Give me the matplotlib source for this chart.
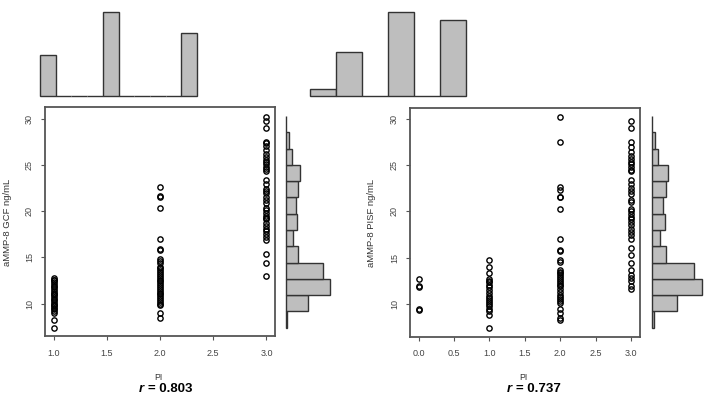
import numpy as np
import matplotlib
matplotlib.use("Agg")
import matplotlib.pyplot as plt

plt.rcParams['font.family'] = ['Liberation Sans', 'DejaVu Sans']

# aMMP-8 GCF values per PI group (left panel)
gcf_pi1 = [12.8, 12.6, 12.5, 12.3, 12.1, 11.9, 11.8, 11.6, 11.4, 11.2, 11.0, 10.9, 10.7,
           10.5, 10.4, 10.2, 10.0, 9.9, 9.7, 9.5, 9.4, 9.2, 9.0, 8.2, 7.4]
gcf_pi2 = [22.6, 21.6, 21.5, 20.3, 17.0, 15.9, 15.8, 14.8, 14.6, 14.4, 14.0, 13.8, 13.6,
           13.4, 13.2, 13.0, 12.8, 12.6, 12.4, 12.2, 12.0, 11.8, 11.6, 11.4, 11.2, 11.0,
           10.8, 10.6, 10.4, 10.2, 10.0, 9.9, 9.0, 8.4]
gcf_pi3 = [30.2, 29.7, 29.0, 27.5, 27.4, 27.0, 26.6, 26.2, 25.9, 25.5, 25.3, 25.1, 24.8,
           24.5, 24.3, 23.4, 22.9, 22.4, 22.2, 22.0, 21.5, 21.2, 20.9, 20.3, 20.1, 19.8,
           19.5, 19.3, 19.1, 18.7, 18.4, 18.1, 17.8, 17.5, 17.2, 16.9, 15.4, 14.4, 13.0]

# aMMP-8 PISF values per PI group (right panel)
pisf_pi0 = [12.7, 11.9, 11.8, 9.5, 9.4]
pisf_pi1 = [14.8, 14.0, 13.3, 12.7, 12.5, 12.4, 12.1, 11.8, 11.5, 11.2, 10.9, 10.6, 10.4,
            10.2, 10.0, 9.8, 9.5, 9.3, 8.8, 7.4]
pisf_pi2 = [30.2, 27.5, 22.6, 22.3, 21.6, 21.5, 20.3, 17.0, 15.8, 15.7, 14.7, 14.5, 13.7,
            13.5, 13.3, 13.1, 12.9, 12.7, 12.5, 12.3, 12.1, 11.9, 11.6, 11.3, 11.0, 10.8,
            10.5, 10.3, 10.1, 9.5, 9.0, 8.5, 8.3]
pisf_pi3 = [29.7, 29.0, 27.5, 26.9, 26.4, 26.0, 25.6, 25.3, 25.1, 24.8, 24.5, 24.3, 23.4,
            22.9, 22.5, 22.2, 21.9, 21.2, 21.0, 20.3, 20.0, 19.7, 19.4, 19.2, 18.8, 18.5,
            18.1, 17.8, 17.5, 17.0, 16.0, 15.3, 14.4, 13.7, 13.1, 12.8, 12.5, 12.0, 11.6]

gcf_groups = {1: gcf_pi1, 2: gcf_pi2, 3: gcf_pi3}
pisf_groups = {0: pisf_pi0, 1: pisf_pi1, 2: pisf_pi2, 3: pisf_pi3}

# marginal histograms
gcf_pi_breaks = [1.0, 1.2, 1.4, 1.6, 1.8, 2.0, 2.2, 2.4, 2.6, 2.8, 3.0]
gcf_pi_counts = [28, 0, 0, 0, 57, 0, 0, 0, 0, 43]
pisf_pi_breaks = [0.0, 0.5, 1.0, 1.5, 2.0, 2.5, 3.0]
pisf_pi_counts = [4, 27, 0, 51, 0, 46]
ammp_breaks = [6, 8, 10, 12, 14, 16, 18, 20, 22, 24, 26, 28, 30, 32]
ammp_counts = [1, 16, 32, 27, 9, 5, 8, 7, 9, 10, 4, 2, 0]

gcf_xticks = [1.0, 1.5, 2.0, 2.5, 3.0]
pisf_xticks = [0.0, 0.5, 1.0, 1.5, 2.0, 2.5, 3.0]
yticks = [10, 15, 20, 25, 30]

W, H = 706, 399
fig = plt.figure(figsize=(W / 100, H / 100), dpi=100)


def px_axes(x0, y0, x1, y1):
    return fig.add_axes([x0 / W, 1 - y1 / H, (x1 - x0) / W, (y1 - y0) / H])


def scatter_panel(box, groups, xlim, xticks):
    ax = px_axes(*box)
    for pi, vals in groups.items():
        ax.plot([pi] * len(vals), vals, 'o', mfc='none', mec='black', ms=3.8, mew=1.0)
    ax.set_xlim(*xlim)
    ax.set_ylim(6.5, 31.2)
    ax.set_xticks(xticks)
    ax.set_xticklabels([f"{t:.1f}" for t in xticks])
    ax.set_yticks(yticks)
    for s in ax.spines.values():
        s.set_color('#555555')
        s.set_linewidth(1.3)
    ax.tick_params(direction='out', length=3, width=0.8, color='#555555',
                   labelsize=6.5, labelcolor='#444444')
    ax.tick_params(axis='x', pad=6)
    ax.tick_params(axis='y', labelrotation=90, pad=5)
    plt.setp(ax.get_yticklabels(), va='center')
    return ax


def top_hist(box, breaks, counts):
    ax = px_axes(*box)
    ax.bar(breaks[:-1], counts, width=np.diff(breaks), align='edge',
           color='#bebebe', edgecolor='#333333', linewidth=1.0, clip_on=False)
    ax.set_xlim(breaks[0], breaks[-1])
    ax.set_ylim(0, max(counts))
    ax.axis('off')


def side_hist(box, breaks, counts):
    ax = px_axes(*box)
    ax.barh(breaks[:-1], counts, height=np.diff(breaks), align='edge',
            color='#bebebe', edgecolor='#333333', linewidth=1.0, clip_on=False)
    ax.set_ylim(breaks[0], breaks[-1])
    ax.set_xlim(0, max(counts))
    ax.axis('off')


scatter_panel((45, 107.5, 275, 336), gcf_groups, (0.92, 3.08), gcf_xticks)
scatter_panel((410, 107.5, 639.5, 336.5), pisf_groups, (-0.12, 3.12), pisf_xticks)

top_hist((40, 12, 197, 96), gcf_pi_breaks, gcf_pi_counts)
top_hist((310, 12, 466, 96), pisf_pi_breaks, pisf_pi_counts)
side_hist((286, 116, 330, 327.7), ammp_breaks, ammp_counts)
side_hist((652, 116, 702, 327.7), ammp_breaks, ammp_counts)

# axis labels and correlation coefficients
def ftext(x, y, s, **kw):
    fig.text(x / W, 1 - y / H, s, **kw)

ftext(8, 222, "aMMP-8 GCF ng/mL", rotation=90, ha='center', va='center', fontsize=6.8, color='#333333')
ftext(372, 223, "aMMP-8 PISF ng/mL", rotation=90, ha='center', va='center', fontsize=6.8, color='#333333')
ftext(158, 378, "PI", ha='center', va='center', fontsize=6.3, color='#333333')
ftext(523, 378, "PI", ha='center', va='center', fontsize=6.3, color='#333333')

ftext(144, 389, "r", ha='right', va='center', fontsize=9.5, fontweight='bold', fontstyle='italic')
ftext(148, 389, "= 0.803", ha='left', va='center', fontsize=9.5, fontweight='bold')
ftext(511.5, 389, "r", ha='right', va='center', fontsize=9.5, fontweight='bold', fontstyle='italic')
ftext(515.5, 389, "= 0.737", ha='left', va='center', fontsize=9.5, fontweight='bold')

fig.savefig("out.png", dpi=100)
